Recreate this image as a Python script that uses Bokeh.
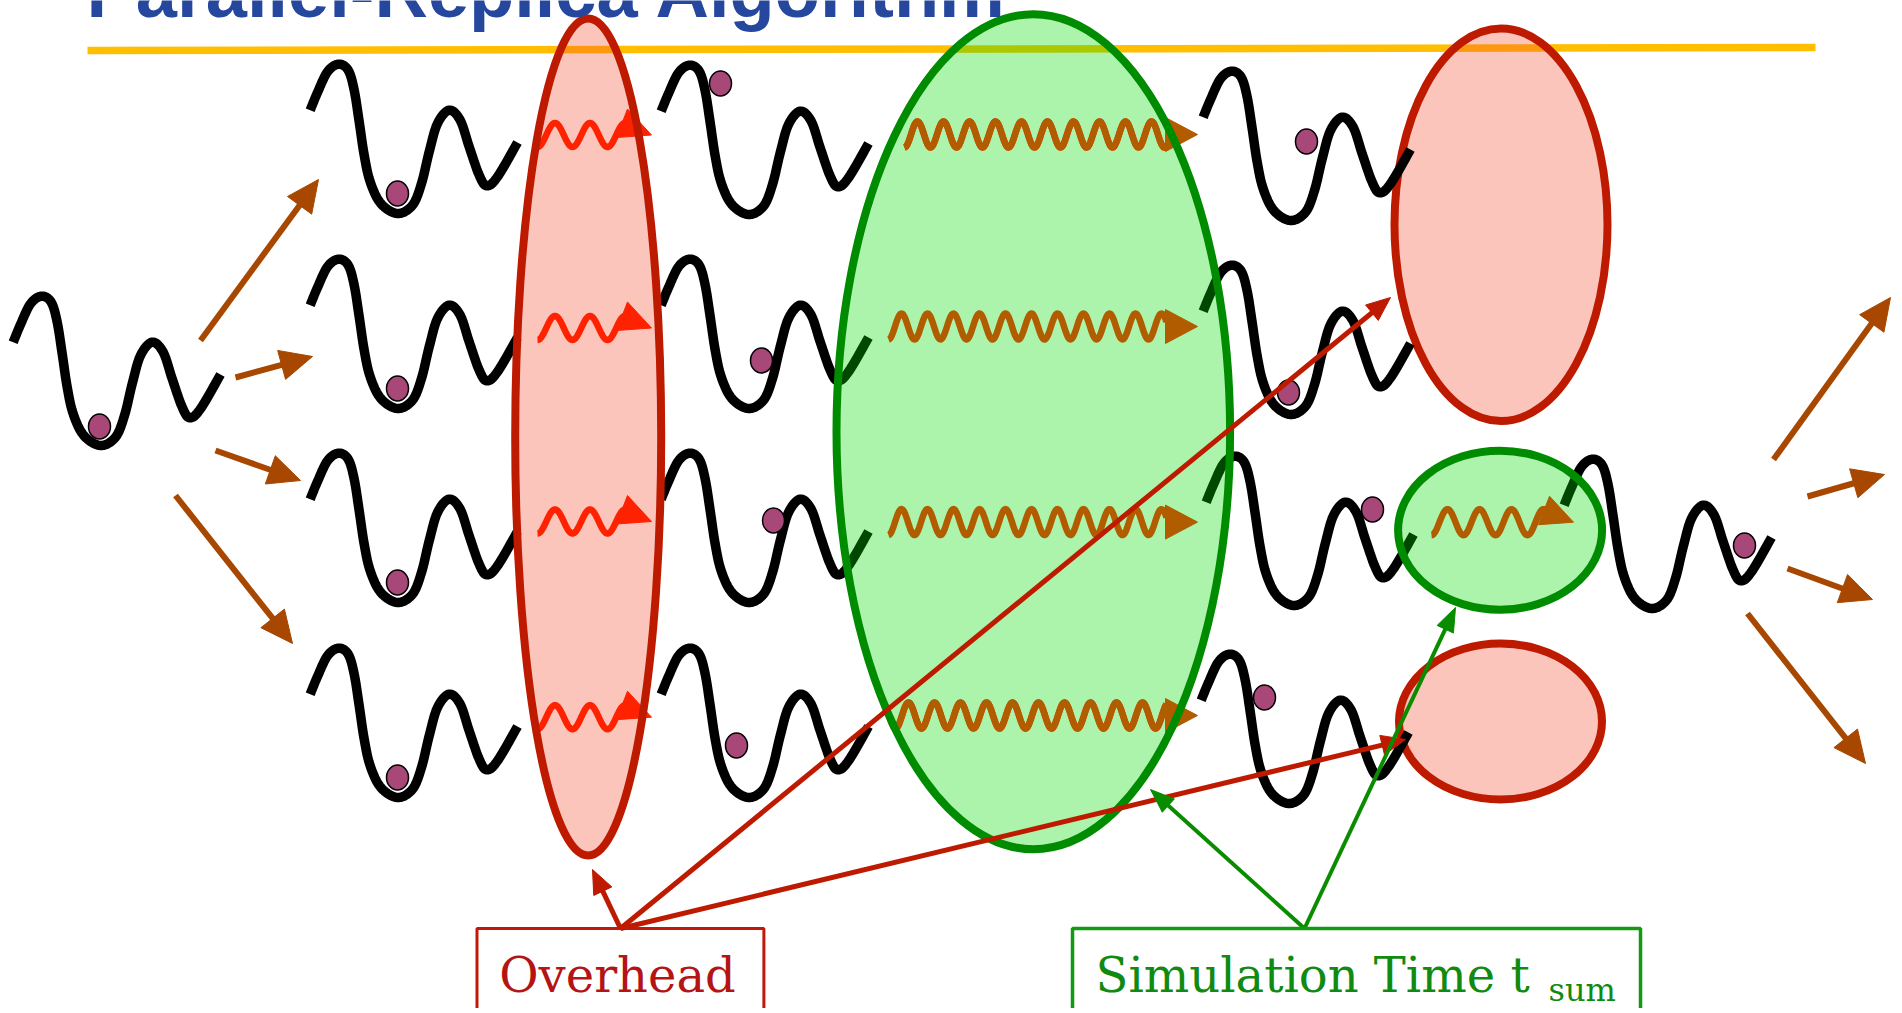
import numpy as np
from bokeh.plotting import figure
from bokeh.models import Range1d
from bokeh.embed import file_html
from bokeh.resources import INLINE
from bokeh.core.properties import value

# ---------------- texts ----------------
TITLE = "Parallel-Replica Algorithm"
LABEL_OVERHEAD = "Overhead"
LABEL_SIM = "Simulation Time t"
LABEL_SUB = "sum"

# ---------------- double-well template (relative to deep minimum) ----------------
WELL_DX = [-87.3, -80, -70, -59, -49.3, -43.3, -38.3, -33.3, -27.3, -16.7, 0, 15, 24, 31.7, 40,
           51.7, 62.7, 71.7, 81.7, 89.3, 100, 120]
WELL_DY = [-103.3, -121, -141.7, -149.3, -143.3, -123.3, -91.7, -58.3, -31.7, -10, 0, -8.3, -30,
           -61.7, -90, -103.3, -93.3, -66.7, -38.3, -27.7, -36.7, -71]

# deep-minimum positions of every replica well
WELL_X = [100, 397, 397, 397, 397, 748, 748, 748, 748, 1290, 1290, 1293, 1288, 1651]
WELL_Y = [445, 213, 408, 602, 797, 214, 408, 602, 797, 220, 414, 605, 803, 608]

# balls (state of each replica)
BALL_X = [99, 397, 397, 397, 397, 720, 761, 773, 736, 1306, 1288, 1372, 1264, 1744]
BALL_Y = [426, 193, 388, 582, 777, 83, 360, 520, 745, 141, 392, 509, 697, 545]

# ---------------- ellipses ----------------
RED_BIG = dict(x=587.7, y=436.5, w=146, h=837)
GREEN_BIG = dict(x=1032.8, y=431.2, w=393.6, h=835)
RED_TR = dict(x=1500.5, y=224.3, w=213, h=392.6)
GREEN_SM = dict(x=1499.6, y=529.7, w=204, h=159)
RED_BR = dict(x=1500, y=721, w=203, h=156)

# ---------------- wavy arrows ----------------
RED_WAVE_Y = [134.5, 327.5, 521, 716.7]
ORANGE_WAVE_Y = [134, 326, 521.6, 715]
ORANGE_WAVE_X0 = [904, 888, 888, 895]

# ---------------- straight arrows ----------------
FAN_L = [((200, 340), (318, 179)), ((235, 377), (312, 356)), ((215, 450), (300, 480)), ((175, 495), (292, 643))]
FAN_R = [((1773, 459), (1890, 297)), ((1807, 496), (1884, 474)), ((1787, 568), (1872, 599)), ((1747, 613), (1865, 763))]
OVH_SRC = (620, 928)
OVH_TIPS = [(592, 869), (1390, 297), (1405, 739)]
SIM_SRC = (1304, 928)
SIM_TIPS = [(1150, 789), (1455, 607)]

# ---------------- colours ----------------
BLACK = "#000000"
BALL = "#A84878"
BROWN = "#A84800"
DRED = "#BE1A00"
WRED = "#FF2200"
ORANGE = "#B25C00"
GREEN_LINE = "#0A8C00"
YELLOW = "#FFBE00"
TITLE_C = "#26479E"

# the svg text renderer sits the alphabetic baseline a bit low: compensate
BASE_SHIFT = 0.36


def catmull(xs, ys, n=10):
    P = np.column_stack([xs, ys]).astype(float)
    P = np.vstack([P[0], P, P[-1]])
    out = []
    t = np.linspace(0, 1, n, endpoint=False)[:, None]
    for i in range(1, len(P) - 2):
        p0, p1, p2, p3 = P[i - 1], P[i], P[i + 1], P[i + 2]
        seg = 0.5 * ((2 * p1) + (-p0 + p2) * t + (2 * p0 - 5 * p1 + 4 * p2 - p3) * t ** 2
                     + (-p0 + 3 * p1 - 3 * p2 + p3) * t ** 3)
        out.append(seg)
    out.append(P[-2][None, :])
    return np.vstack(out)


def head(start, tip, L, Wd):
    s = np.array(start, float)
    e = np.array(tip, float)
    d = e - s
    d /= np.linalg.norm(d)
    nrm = np.array([-d[1], d[0]])
    base = e - d * L
    a = base + nrm * Wd / 2
    b = base - nrm * Wd / 2
    return [e[0], a[0], b[0]], [e[1], a[1], b[1]], base + d * 2


def wave(x0, x1, yc, amp, period, ref=None, n=300):
    if ref is None:
        ref = x0
    x = np.linspace(x0, x1, n)
    y = yc + amp * np.cos(2 * np.pi * (x - ref) / period)
    return x, y


W, H = 1896, 1008
p = figure(width=W, height=H, x_range=Range1d(0, W), y_range=Range1d(H, 0),
           output_backend="svg", toolbar_location=None, min_border=0,
           x_axis_location=None, y_axis_location=None)
p.grid.visible = False
p.outline_line_color = None
p.background_fill_color = "white"
p.border_fill_color = "white"

# yellow rule under title
p.line([87, 1815], [50, 47], line_color=YELLOW, line_width=7.5)

RED_FILL = "#F54B2F"
RED_ALPHA = 0.323
GREEN_FILL = "#00DD00"
GREEN_ALPHA = 0.326

# right red ellipses (drawn below the wells)
for e in (RED_TR, RED_BR):
    p.ellipse(x=e["x"], y=e["y"], width=e["w"], height=e["h"], fill_color=RED_FILL,
              fill_alpha=RED_ALPHA, line_color=DRED, line_width=8)

# wells
tmpl = catmull(WELL_DX, WELL_DY, 12)
wx = [list(tmpl[:, 0] + cx) for cx in WELL_X]
wy = [list(tmpl[:, 1] + cy) for cy in WELL_Y]
p.multi_line(wx, wy, line_color=BLACK, line_width=9.5, line_cap="butt", line_join="round")
p.ellipse(x=BALL_X, y=BALL_Y, width=22, height=25, fill_color=BALL, line_color=BLACK, line_width=1.5)

# fills of the big ellipses and the small green one
p.ellipse(x=RED_BIG["x"], y=RED_BIG["y"], width=RED_BIG["w"], height=RED_BIG["h"],
          fill_color=RED_FILL, fill_alpha=RED_ALPHA, line_color=None)
for e in (GREEN_BIG, GREEN_SM):
    p.ellipse(x=e["x"], y=e["y"], width=e["w"], height=e["h"], fill_color=GREEN_FILL,
              fill_alpha=GREEN_ALPHA, line_color=None)

# tilted arrow head shape (relative to tip)
TH_DX = [0, -24, -35]
TH_DY = [0, -26, 2.5]

# red wavy arrows inside the red ellipse
for yc in RED_WAVE_Y:
    x, y = wave(537, 630, yc, 12, 35)
    p.line(x, y, line_color=WRED, line_width=6.5, line_join="round")
    p.patch([651 + d for d in TH_DX], [yc + d for d in TH_DY], fill_color=WRED, line_color=WRED, line_width=1)

# orange wavy arrows in green ellipse (rows 1 & 4 have a red arrow underneath)
for i, (yc, x0) in enumerate(zip(ORANGE_WAVE_Y, ORANGE_WAVE_X0)):
    if i in (0, 3):
        x0r = x0 - 12 if i == 3 else x0
        x, y = wave(x0r, 1166, yc, 13, 26, ref=x0)
        p.line(x, y, line_color=WRED, line_width=6.5, line_join="round")
        p.patch([1196, 1166, 1166], [yc, yc - 15, yc + 15], fill_color=WRED, line_color=WRED)
    x, y = wave(x0, 1166, yc, 13, 26)
    p.line(x, y, line_color=ORANGE, line_width=6.5, line_join="round")
    p.patch([1197, 1165, 1165], [yc, yc - 17, yc + 17], fill_color=ORANGE, line_color=ORANGE)

# orange wavy arrow in the small green ellipse
x, y = wave(1431, 1550, 521.7, 13, 32)
p.line(x, y, line_color=ORANGE, line_width=6.5, line_join="round")
p.patch([1573 + d for d in TH_DX], [521.7 + d for d in TH_DY], fill_color=ORANGE, line_color=ORANGE)

# strokes of the ellipses on top
p.ellipse(x=RED_BIG["x"], y=RED_BIG["y"], width=RED_BIG["w"], height=RED_BIG["h"],
          fill_color=None, line_color=DRED, line_width=8)
for e in (GREEN_BIG, GREEN_SM):
    p.ellipse(x=e["x"], y=e["y"], width=e["w"], height=e["h"], fill_color=None,
              line_color="#008C00", line_width=8)

# brown fan arrows
for s, t in FAN_L + FAN_R:
    hx, hy, base = head(s, t, 32, 30)
    p.line([s[0], base[0]], [s[1], base[1]], line_color=BROWN, line_width=6)
    p.patch(hx, hy, fill_color=BROWN, line_color=BROWN)

# overhead arrows
for t in OVH_TIPS:
    hx, hy, base = head(OVH_SRC, t, 24, 20)
    p.line([OVH_SRC[0], base[0]], [OVH_SRC[1], base[1]], line_color=DRED, line_width=5)
    p.patch(hx, hy, fill_color=DRED, line_color=DRED)

# simulation-time arrows
for t in SIM_TIPS:
    hx, hy, base = head(SIM_SRC, t, 24, 18)
    p.line([SIM_SRC[0], base[0]], [SIM_SRC[1], base[1]], line_color=GREEN_LINE, line_width=4)
    p.patch(hx, hy, fill_color=GREEN_LINE, line_color=GREEN_LINE)

# label boxes
p.quad(left=[476.5], right=[763.4], top=[928], bottom=[1040], fill_color=None, line_color="#C0190A", line_width=3)
p.quad(left=[1072], right=[1640], top=[928], bottom=[1040], fill_color=None, line_color="#139A13", line_width=3.5)

p.text(x=[617], y=[992 - BASE_SHIFT * 48], text=[LABEL_OVERHEAD], text_font=value("DejaVu Serif"),
       text_font_size="48px", text_color="#B41414", text_align="center", text_baseline="alphabetic")
p.text(x=[1095], y=[992 - BASE_SHIFT * 48], text=[LABEL_SIM], text_font=value("DejaVu Serif"),
       text_font_size="48px", text_color="#118A11", text_align="left", text_baseline="alphabetic")
p.text(x=[1548], y=[1001 - BASE_SHIFT * 32], text=[LABEL_SUB], text_font=value("DejaVu Serif"),
       text_font_size="32px", text_color="#118A11", text_align="left", text_baseline="alphabetic")

# title (cut off at the top)
p.text(x=[86], y=[18 - BASE_SHIFT * 74], text=[TITLE], text_font=value("Liberation Sans"),
       text_font_style="bold", text_font_size="74px", text_color=TITLE_C, text_align="left",
       text_baseline="alphabetic")

open("out.html", "w").write(file_html(p, INLINE))
